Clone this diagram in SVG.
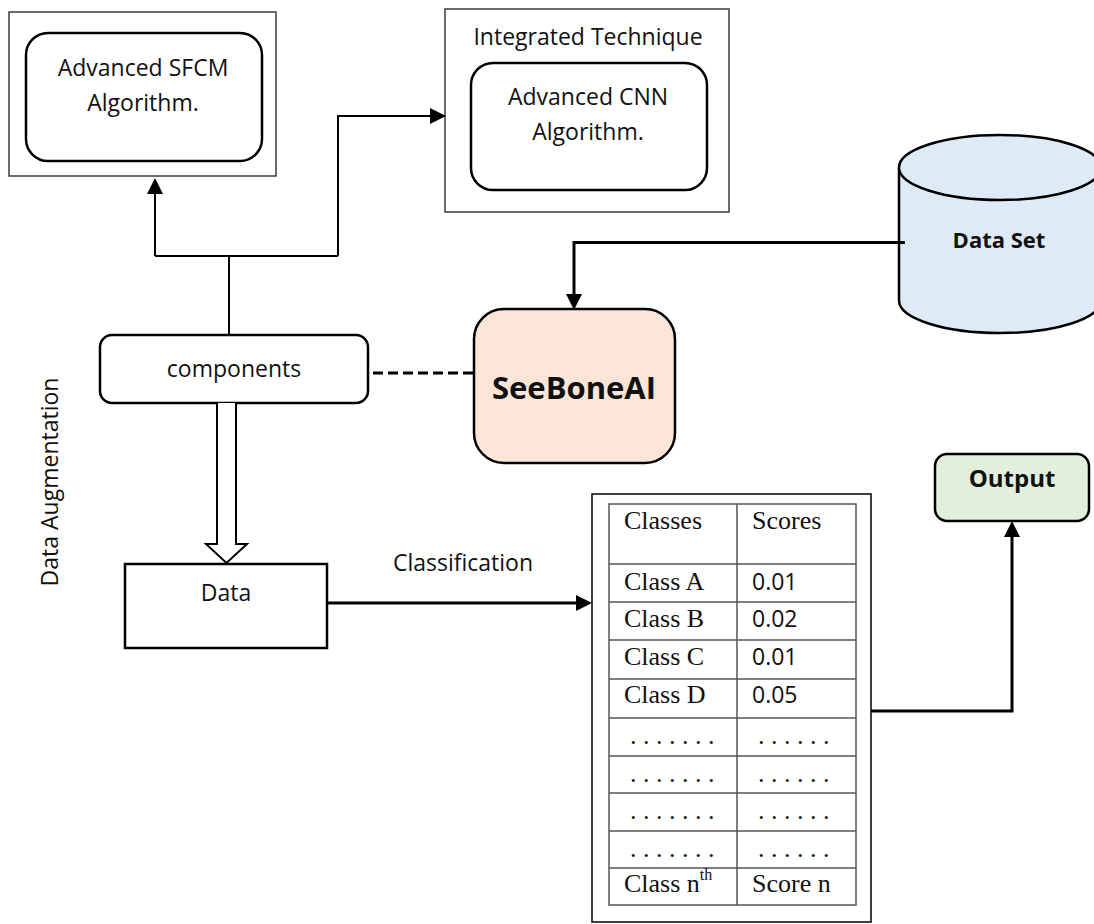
<svg xmlns="http://www.w3.org/2000/svg" width="1094" height="924" viewBox="0 0 1094 924">
<style>
.outer{fill:#fff;stroke:#3a3a3a;stroke-width:1.5}
.inner{fill:#fff;stroke:#000;stroke-width:2.5}
.t{font-family:"Open Sans","Noto Sans",sans-serif;font-size:23px;fill:#111;text-anchor:middle}
.b{font-family:"Open Sans","Noto Sans",sans-serif;font-weight:bold;fill:#111;text-anchor:middle}
.tm{font-family:"Liberation Serif","Times New Roman",serif;font-size:26px;fill:#111}
.ts{font-family:"Open Sans","Noto Sans",sans-serif;font-size:23px;fill:#111}
.grid{stroke:#555;stroke-width:1.5;fill:none}
.thin{fill:none;stroke:#000;stroke-width:2}
.thick{fill:none;stroke:#000;stroke-width:3}
</style>
<defs>
<marker id="ah" viewBox="0 0 16 16" refX="0" refY="8" markerWidth="16" markerHeight="16" markerUnits="userSpaceOnUse" orient="auto">
<path d="M0,0 L16,8 L0,16 z" fill="#000"/>
</marker>
</defs>
<rect width="1094" height="924" fill="#fff"/>

<g id="sfcm">
<rect class="outer" x="9" y="12" width="267" height="164"/>
<rect class="inner" x="26" y="33" width="236" height="128" rx="22"/>
<text class="t" x="143" y="76">Advanced SFCM</text>
<text class="t" x="143" y="111">Algorithm.</text>
</g>

<g id="cnn">
<rect class="outer" x="445" y="9" width="284" height="203"/>
<text class="t" x="588" y="45">Integrated Technique</text>
<rect class="inner" x="471" y="63" width="236" height="127" rx="22"/>
<text class="t" x="588" y="105">Advanced CNN</text>
<text class="t" x="588" y="140">Algorithm.</text>
</g>

<g id="dataset">
<path d="M899,167.5 V300.5 A101,32.5 0 0 0 1101,300.5 V167.5" fill="#DEEBF7" stroke="#000" stroke-width="2.5"/>
<ellipse cx="1000" cy="167.5" rx="101" ry="32.5" fill="#DEEBF7" stroke="#000" stroke-width="2.5"/>
<text class="b" x="999" y="248" font-size="22">Data Set</text>
</g>

<g id="components">
<rect class="inner" x="100" y="335" width="268" height="68" rx="12"/>
<text class="t" x="234" y="377" font-size="25">components</text>
</g>

<g id="seeboneai">
<rect x="474" y="309" width="201" height="154" rx="30" fill="#FBE5D6" stroke="#000" stroke-width="2.5"/>
<text class="b" x="574" y="399" font-size="31">SeeBoneAI</text>
</g>

<g id="output">
<rect x="935" y="454" width="154" height="67" rx="12" fill="#E2EFDA" stroke="#000" stroke-width="2.5"/>
<text class="b" x="1012" y="487" font-size="24">Output</text>
</g>

<g id="data">
<rect x="125" y="564" width="202" height="84" fill="#fff" stroke="#000" stroke-width="2.5"/>
<text class="t" x="226" y="601">Data</text>
</g>

<g id="labels">
<text class="t" x="463" y="571">Classification</text>
<text class="t" transform="translate(58,482) rotate(-90)">Data Augmentation</text>
</g>

<g id="table">
<rect x="592" y="494" width="279" height="428" fill="#fff" stroke="#000" stroke-width="1.5"/>
<rect class="grid" x="609" y="504" width="247" height="401"/>
<path class="grid" d="M737,504 V905 M609,564 H856 M609,602 H856 M609,640 H856 M609,679 H856 M609,718 H856 M609,756 H856 M609,793 H856 M609,831 H856 M609,868 H856"/>
<text class="tm" x="624" y="529">Classes</text>
<text class="tm" x="752" y="529">Scores</text>
<text class="tm" x="624" y="590">Class A</text>
<text class="ts" x="752" y="590">0.01</text>
<text class="tm" x="624" y="627">Class B</text>
<text class="ts" x="752" y="627">0.02</text>
<text class="tm" x="624" y="665">Class C</text>
<text class="ts" x="752" y="665">0.01</text>
<text class="tm" x="624" y="703">Class D</text>
<text class="ts" x="752" y="703">0.05</text>
<text class="tm" x="630" y="744">. . . . . . .</text>
<text class="tm" x="758" y="744">. . . . . .</text>
<text class="tm" x="630" y="782">. . . . . . .</text>
<text class="tm" x="758" y="782">. . . . . .</text>
<text class="tm" x="630" y="819">. . . . . . .</text>
<text class="tm" x="758" y="819">. . . . . .</text>
<text class="tm" x="630" y="857">. . . . . . .</text>
<text class="tm" x="758" y="857">. . . . . .</text>
<text class="tm" x="624" y="892">Class n<tspan font-size="16" dy="-12">th</tspan></text>
<text class="tm" x="752" y="892">Score n</text>
</g>

<g id="connectors">
<path class="thin" d="M229,335 V256 M155,256 H338 M155,256 V194" marker-end="url(#ah)"/>
<path class="thin" d="M338,256 V116 H430" marker-end="url(#ah)"/>
<path class="thick" d="M905,242.5 H574 V294" marker-end="url(#ah)"/>
<path d="M373,373 H474" stroke="#000" stroke-width="3" stroke-dasharray="10,5" fill="none"/>
<path d="M217,403 V544 H206 L226.5,563 L247,544 H236 V403" fill="#fff" stroke="#000" stroke-width="2"/>
<path class="thick" d="M327,603 H576" marker-end="url(#ah)"/>
<path class="thick" d="M871,711 H1012 V537" marker-end="url(#ah)"/>
</g>
</svg>
